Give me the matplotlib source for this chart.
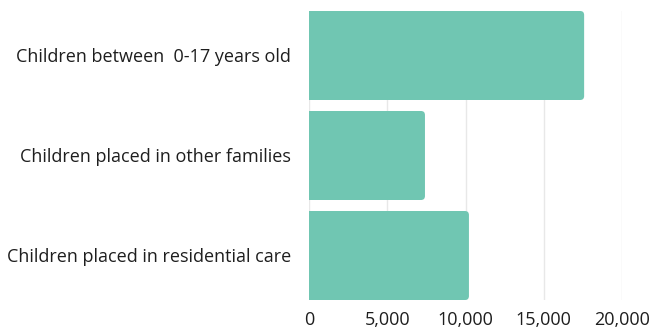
import matplotlib.pyplot as plt
from matplotlib.patches import FancyBboxPatch
from matplotlib.ticker import FuncFormatter

categories = ["Children between  0-17 years old",
              "Children placed in other families",
              "Children placed in residential care"]
values = [17580, 7410, 10220]
ticks = [0, 5000, 10000, 15000, 20000]

bar_color = "#70c6b2"
text_color = "#1e1e1e"

plt.rcParams['font.family'] = ['Open Sans', 'DejaVu Sans']

fig = plt.figure(figsize=(6.51, 3.31), dpi=100)
ax = fig.add_axes([309 / 651, 1 - 300 / 331, 313 / 651, 289 / 331])

h = 0.89
ax.set_xlim(0, 20000)
ax.set_ylim(len(categories) - 1 + h / 2, -h / 2)

# rounded right corners: pixels -> data units
px_x = 20000 / 313
px_y = (len(categories) - 1 + h) / 289
r = 4
for i, v in enumerate(values):
    patch = FancyBboxPatch((-10 * px_x, i - h / 2), v + 10 * px_x, h,
                           boxstyle="round,pad=0,rounding_size=%f" % (r * px_x),
                           mutation_aspect=px_y / px_x,
                           facecolor=bar_color, edgecolor="none", zorder=2,
                           clip_on=True)
    ax.add_patch(patch)

ax.set_xticks(ticks)
ax.xaxis.set_major_formatter(FuncFormatter(lambda x, p: "{:,.0f}".format(x)))
ax.set_yticks(range(len(categories)))
ax.set_yticklabels(categories)
ax.grid(axis='x', color="#e8e8e8", linewidth=1, zorder=0)
ax.set_axisbelow(True)
for s in ax.spines.values():
    s.set_visible(False)
ax.tick_params(axis='both', length=0, labelsize=13.0, colors=text_color)
ax.tick_params(axis='x', pad=8)
ax.tick_params(axis='y', pad=13)

fig.savefig("out.png", dpi=100)
